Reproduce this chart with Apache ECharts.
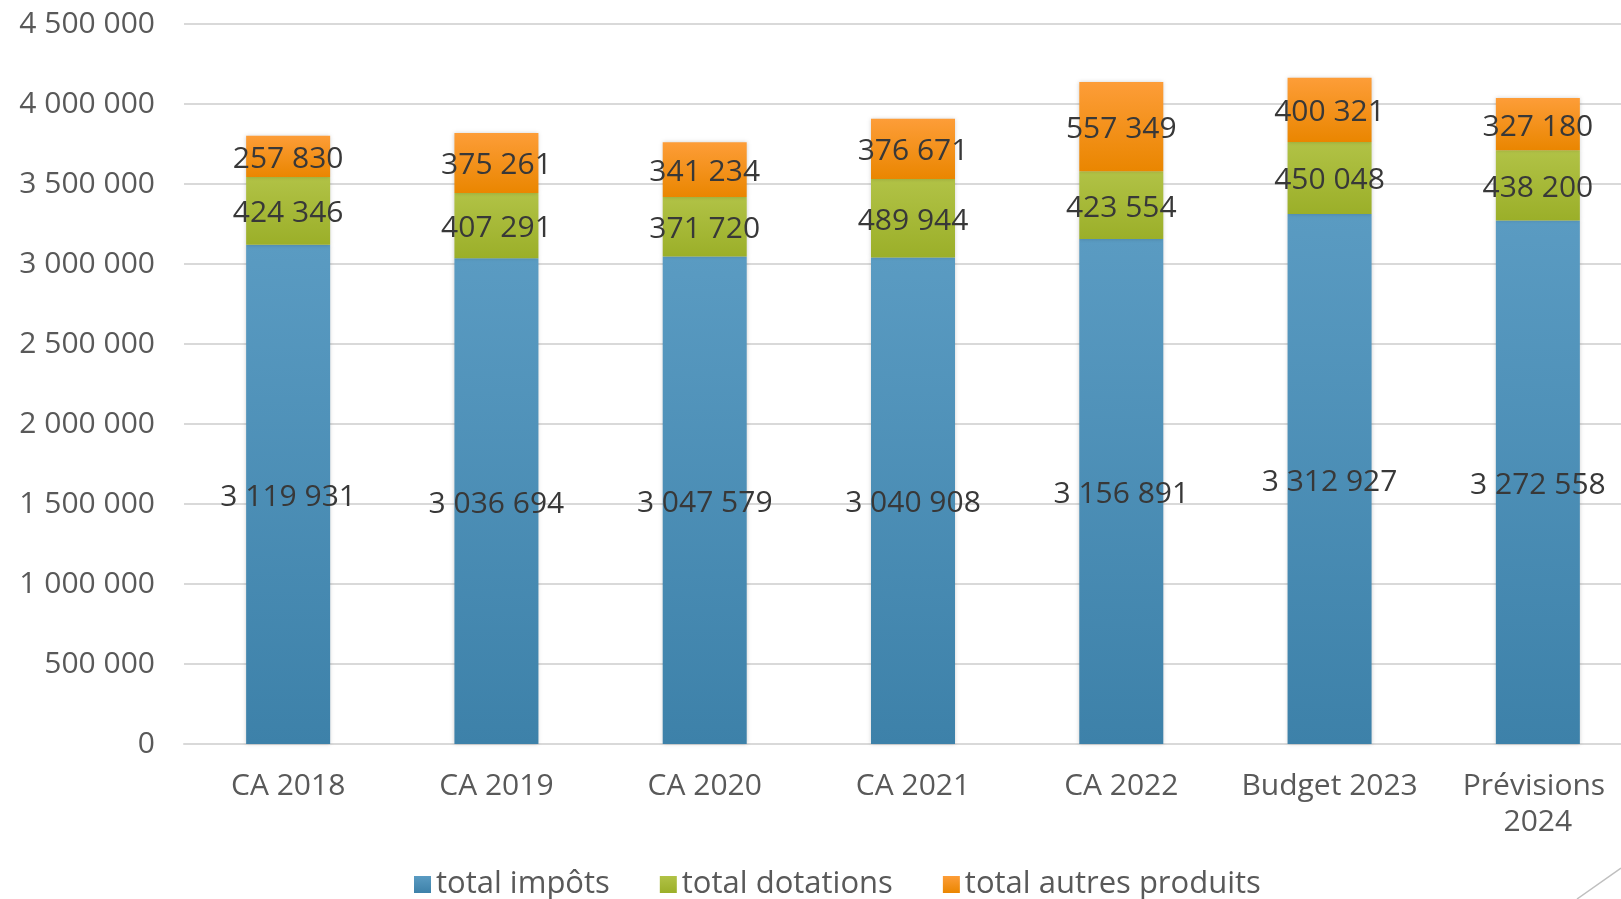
<!DOCTYPE html>
<html>
<head>
<meta charset="utf-8">
<title>Recettes</title>
<script src="https://cdn.jsdelivr.net/npm/echarts@6/dist/echarts.min.js"></script>
<style>
  html, body { margin: 0; padding: 0; background: #fff; }
  #main { width: 1621px; height: 899px; }
</style>
</head>
<body>
<div id="main"></div>
<script>
// données
var categories = ['CA 2018', 'CA 2019', 'CA 2020', 'CA 2021', 'CA 2022', 'Budget 2023', 'Prévisions 2024'];
var impots = [3119931, 3036694, 3047579, 3040908, 3156891, 3312927, 3272558];
var dotations = [424346, 407291, 371720, 489944, 423554, 450048, 438200];
var autresProduits = [257830, 375261, 341234, 376671, 557349, 400321, 327180];
var seriesNames = ['total impôts', 'total dotations', 'total autres produits'];

var FONT = '"Open Sans", "Liberation Sans", sans-serif';

// 3 500 000
function fmt(v) {
  return String(Math.round(v)).replace(/\B(?=(\d{3})+(?!\d))/g, ' ');
}

function grad(top, bottom) {
  return new echarts.graphic.LinearGradient(0, 0, 0, 1, [
    {offset: 0, color: top},
    {offset: 1, color: bottom}
  ]);
}

function barSerie(name, data, top, bottom) {
  return {
    name: name,
    type: 'bar',
    stack: 'total',
    barWidth: 84,
    data: data,
    itemStyle: {
      color: grad(top, bottom),
      shadowBlur: 4,
      shadowColor: 'rgba(0,0,0,0.18)'
    },
    label: {
      show: true,
      position: 'inside',
      offset: [0, 3],
      color: '#383838',
      fontFamily: FONT,
      fontSize: 30,
      formatter: function (p) { return fmt(p.value); }
    }
  };
}

var chart = echarts.init(document.getElementById('main'));
chart.setOption({
  animation: false,
  color: ['#4a8db8', '#a6b834', '#f39419'],
  // la zone du graphique déborde à droite (coupée dans l'original)
  grid: {left: 184, width: 1458, top: 24, bottom: 155, containLabel: false, outerBoundsMode: 'none'},
  legend: {
    data: seriesNames,
    left: 409,
    top: 864,
    icon: 'rect',
    itemWidth: 17,
    itemHeight: 17,
    itemGap: 50,
    textStyle: {color: '#595959', fontFamily: FONT, fontSize: 31}
  },
  xAxis: {
    type: 'category',
    data: categories,
    axisTick: {show: false},
    axisLine: {lineStyle: {color: '#d9d9d9', width: 2}},
    axisLabel: {
      color: '#595959',
      fontFamily: FONT,
      fontSize: 30,
      lineHeight: 36,
      margin: 24,
      width: 190,
      overflow: 'break',
      interval: 0
    }
  },
  yAxis: {
    type: 'value',
    min: 0,
    max: 4500000,
    interval: 500000,
    axisLine: {show: false},
    axisTick: {show: false},
    splitLine: {lineStyle: {color: '#d9d9d9', width: 2}},
    axisLabel: {
      color: '#595959',
      fontFamily: FONT,
      fontSize: 30,
      margin: 29,
      formatter: fmt
    }
  },
  series: [
    barSerie(seriesNames[0], impots, '#5a9bc2', '#3d81a9'),
    barSerie(seriesNames[1], dotations, '#b1c246', '#9baf29'),
    barSerie(seriesNames[2], autresProduits, '#fd9d38', '#ea8600')
  ],
  graphic: [{
    type: 'line',
    shape: {x1: 1577, y1: 899, x2: 1621, y2: 868},
    style: {stroke: '#bfbfbf', lineWidth: 1.5}
  }]
});
</script>
</body>
</html>
